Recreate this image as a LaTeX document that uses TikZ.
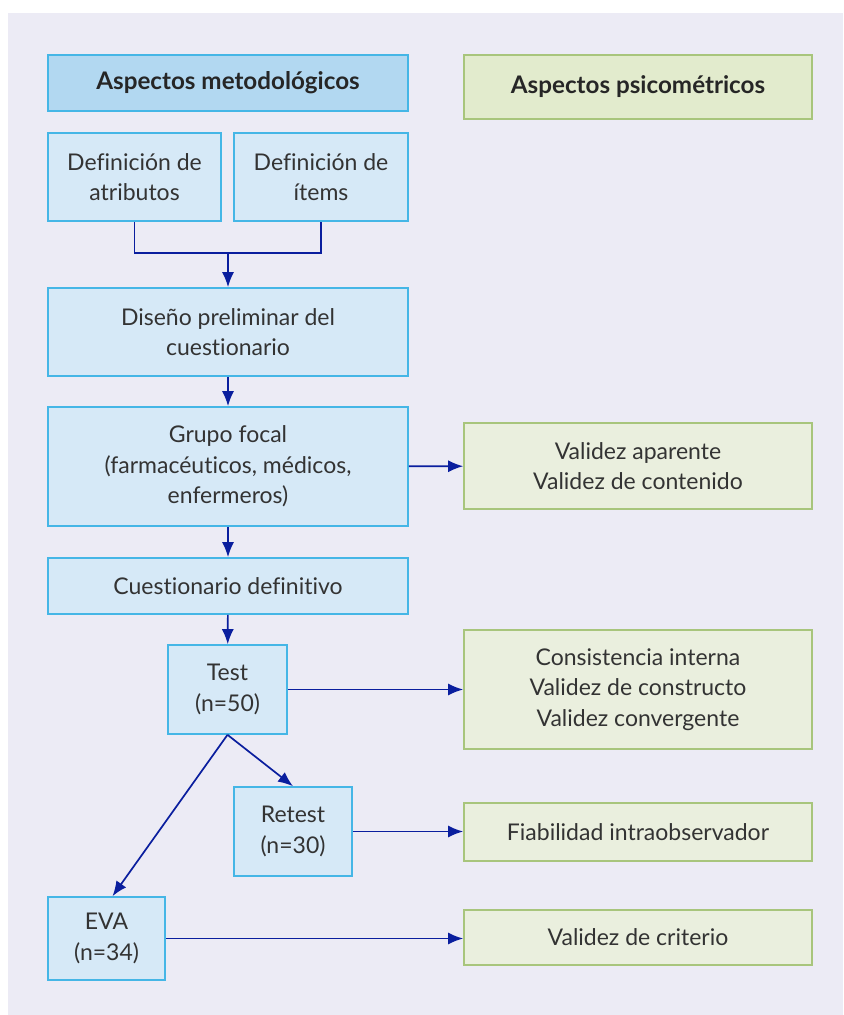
\documentclass[tikz,border=0pt]{standalone}
\usepackage{fontspec}
\setmainfont{Lato}[Ligatures={NoCommon,NoDiscretionary}]
\usetikzlibrary{arrows.meta}

\definecolor{fondo}{HTML}{ECEBF5}
\definecolor{azulborde}{HTML}{45B6E6}
\definecolor{azulrelleno}{HTML}{D6E9F7}
\definecolor{azultitulo}{HTML}{B2D8F1}
\definecolor{verdeborde}{HTML}{A8C57C}
\definecolor{verderelleno}{HTML}{EAEFDE}
\definecolor{verdetitulo}{HTML}{E2EBCD}
\definecolor{flechaazul}{HTML}{0A1E9E}
\definecolor{texto}{HTML}{333333}

\begin{document}
\begin{tikzpicture}[x=0.5pt,y=-0.5pt,
    every node/.style={text=texto,font=\fontsize{11.5}{15.3}\selectfont,align=center},
    metodo/.style={draw=azulborde,fill=azulrelleno,line width=0.8pt,inner sep=0pt},
    psico/.style={draw=verdeborde,fill=verderelleno,line width=0.8pt,inner sep=0pt},
    titulo/.style={font=\fontsize{12.1}{15}\selectfont\bfseries,text=black!85},
    conector/.style={draw=flechaazul,line width=0.85pt},
    flecha/.style={conector,-{Latex[length=7.5pt,width=6pt]}}]
  % fondo
  \fill[fondo] (8,13) rectangle (843,1015);
  \useasboundingbox (0,0) rectangle (843,1015);

  % columna izquierda
  \node[metodo,titulo,fill=azultitulo,minimum width=180pt,minimum height=28pt]
    (metodologicos) at (228,83) {Aspectos metodológicos};
  \node[metodo,minimum width=86.5pt,minimum height=44pt] (atributos) at (134.5,177) {Definición de\\atributos};
  \node[metodo,minimum width=87pt,minimum height=44pt] (items) at (321,177) {Definición de\\ítems};
  \node[metodo,minimum width=180pt,minimum height=44pt] (diseno) at (228,332) {Diseño preliminar del\\cuestionario};
  \node[metodo,minimum width=180pt,minimum height=59.5pt] (grupo) at (228,466.5) {Grupo focal\\(farmacéuticos, médicos,\\enfermeros)};
  \node[metodo,minimum width=180pt,minimum height=28pt] (definitivo) at (228,586) {Cuestionario definitivo};
  \node[metodo,minimum width=59.5pt,minimum height=44.5pt] (test) at (227.5,689.5) {Test\\(n=50)};
  \node[metodo,minimum width=59pt,minimum height=44.5pt] (retest) at (293,831.5) {Retest\\(n=30)};
  \node[metodo,minimum width=58.5pt,minimum height=41.5pt] (eva) at (106.5,938.5) {EVA\\(n=34)};

  % columna derecha
  \node[psico,titulo,fill=verdetitulo,minimum width=174pt,minimum height=32pt]
    (psicometricos) at (638,87) {Aspectos psicométricos};
  \node[psico,minimum width=174pt,minimum height=43pt] (aparente) at (638,466) {Validez aparente\\Validez de contenido};
  \node[psico,minimum width=174pt,minimum height=59.5pt] (consistencia) at (638,689.5) {Consistencia interna\\Validez de constructo\\Validez convergente};
  \node[psico,minimum width=174pt,minimum height=29pt] (fiabilidad) at (638,832) {Fiabilidad intraobservador};
  \node[psico,minimum width=174pt,minimum height=27.5pt] (criterio) at (638,937.5) {Validez de criterio};

  % conectores
  \coordinate (union) at (228,253);
  \draw[conector] (atributos.south) |- (union) -| (items.south);
  \draw[flecha] (union) -- (diseno.north);
  \draw[flecha] (diseno) -- (grupo);
  \draw[flecha] (grupo) -- (definitivo);
  \draw[flecha] (definitivo) -- (test);
  \draw[flecha] (grupo) -- (aparente);
  \draw[flecha] (test) -- (test -| consistencia.west);
  \draw[flecha] (test.south) -- (retest.north);
  \draw[flecha] (test.south) -- ([xshift=3pt]eva.north);
  \draw[flecha] (retest) -- (retest -| fiabilidad.west);
  \draw[flecha] (eva) -- (eva -| criterio.west);
\end{tikzpicture}
\end{document}
